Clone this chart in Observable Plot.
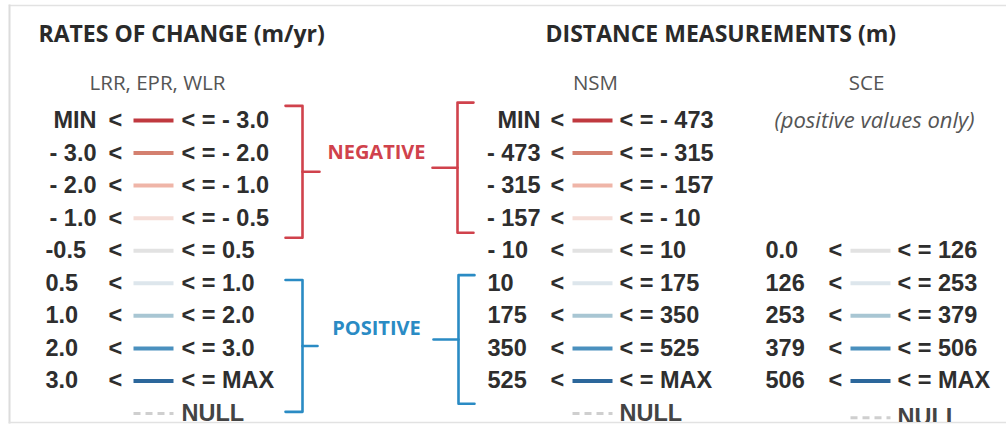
<!DOCTYPE html>
<html><head><meta charset="utf-8">
<script src="https://cdn.jsdelivr.net/npm/d3@7"></script>
<script src="https://cdn.jsdelivr.net/npm/@observablehq/plot@0.6"></script>
<style>body{margin:0;background:#fff}svg{display:block}</style>
</head><body><div id="chart"></div>
<script>
// ---- data ----
const titles = ["RATES OF CHANGE (m/yr)", "DISTANCE MEASUREMENTS (m)"];
const subtitles = ["LRR, EPR, WLR", "NSM", "SCE"];
const sceNote = "(positive values only)";
const groupLabels = ["NEGATIVE", "POSITIVE"];
const rateLower = ["MIN", "- 3.0", "- 2.0", "- 1.0", "-0.5", "0.5", "1.0", "2.0", "3.0"];
const rateUpper = ["- 3.0", "- 2.0", "- 1.0", "- 0.5", "0.5", "1.0", "2.0", "3.0", "MAX"];
const nsmLower = ["MIN", "- 473", "- 315", "- 157", "- 10", "10", "175", "350", "525"];
const nsmUpper = ["- 473", "- 315", "- 157", "- 10", "10", "175", "350", "525", "MAX"];
const sceLower = ["0.0", "126", "253", "379", "506"];
const sceUpper = ["126", "253", "379", "506", "MAX"];
const nullLabel = "NULL";
const classColors = ["#c0393f", "#d4806f", "#efb5a8", "#f5ddd7", "#e2e2e2", "#dde6ec", "#a8c6d3", "#4a90be", "#2c679b"];
const nullColor = "#cfcfcf";
const negColor = "#d0424c";
const posColor = "#2a8bc4";

// ---- layout ----
const cols = [
  {lower: rateLower, upper: rateUpper, first: 0, negEnd: 96, start: 45, lt: 108, x0: 133, x1: 173, right: 181, nullRow: 9},
  {lower: nsmLower, upper: nsmUpper, first: 0, negEnd: 540, start: 487, lt: 550, x0: 572, x1: 612, right: 619, nullRow: 9},
  {lower: sceLower, upper: sceUpper, first: 4, negEnd: null, start: 765, lt: 828, x0: 850, x1: 890, right: 897, nullRow: 9.13}
];
const rows = [], nulls = [];
for (const c of cols) {
  c.lower.forEach((lo, i) => {
    const k = c.first + i;
    rows.push({
      row: k, left: lo, neg: c.negEnd != null && k < 4,
      xl: c.negEnd != null && k < 4 ? c.negEnd : c.start,
      lt: c.lt, x0: c.x0, x1: c.x1, xr: c.right,
      right: "< = " + c.upper[i], color: classColors[k]
    });
  });
  nulls.push({row: c.nullRow, x0: c.x0, x1: c.x1, xr: c.right, text: nullLabel});
}
const bracketSpec = [
  {color: negColor, x: 302, dir: 1, top: -0.45, bottom: 3.6, arm: 17, tick: 17},
  {color: negColor, x: 457, dir: -1, top: -0.55, bottom: 3.45, arm: 16, tick: 25},
  {color: posColor, x: 302, dir: 1, top: 4.9, bottom: 8.95, arm: 17, tick: 15},
  {color: posColor, x: 458, dir: -1, top: 4.75, bottom: 8.7, arm: 16, tick: 25}
];
const bracketPts = [];
bracketSpec.forEach((b, j) => {
  const mid = (b.top + b.bottom) / 2, ax = b.x - b.dir * b.arm;
  [[ax, b.top], [b.x, b.top], [b.x, b.bottom], [ax, b.bottom]].forEach(([x, y]) => bracketPts.push({id: "a" + j, x, y, color: b.color}));
  [[b.x, mid], [b.x + b.dir * b.tick, mid]].forEach(([x, y]) => bracketPts.push({id: "t" + j, x, y, color: b.color}));
});
const groupText = [
  {text: groupLabels[0], x: 376, row: 0.98, color: negColor},
  {text: groupLabels[1], x: 376, row: 6.4, color: posColor}
];
const headers = [
  {text: titles[0], x: 38, row: -2.64},
  {text: titles[1], x: 545, row: -2.64}
];
const subs = [
  {text: subtitles[0], x: 157, row: -1.14},
  {text: subtitles[1], x: 595, row: -1.14},
  {text: subtitles[2], x: 866, row: -1.14}
];

const rowFont = {fontFamily: "Liberation Sans, Arial, sans-serif", fontWeight: "bold", fontSize: 23.5, fill: "#2e2e2e"};
const hdrFont = {fontFamily: "Open Sans, sans-serif"};

const chart = Plot.plot({
  width: 1006, height: 433,
  marginTop: 5, marginLeft: 9, marginRight: 0, marginBottom: 11,
  x: {type: "identity", axis: null},
  y: {domain: [0, 9], range: [120, 413], axis: null},
  marks: [
    Plot.frame({anchor: "top", stroke: "#e2e2e2", strokeWidth: 1.5}),
    Plot.frame({anchor: "left", stroke: "#dcdcdc", strokeWidth: 2}),
    Plot.frame({anchor: "bottom", stroke: "#e2e2e2", strokeWidth: 1.5}),
    Plot.text(headers, {x: "x", y: "row", text: "text", textAnchor: "start", ...hdrFont, fontWeight: "bold", fontSize: 23, fill: "#2a2a2a"}),
    Plot.text(subs, {x: "x", y: "row", text: "text", ...hdrFont, fontSize: 20.5, fill: "#555"}),
    Plot.text([sceNote], {x: 874, y: 0, text: d => d, ...hdrFont, fontStyle: "italic", fontSize: 22, fill: "#555"}),
    Plot.text(rows.filter(d => d.neg), {x: "xl", y: "row", text: "left", textAnchor: "end", ...rowFont}),
    Plot.text(rows.filter(d => !d.neg), {x: "xl", y: "row", text: "left", textAnchor: "start", ...rowFont}),
    Plot.text(rows, {x: "lt", y: "row", text: () => "<", textAnchor: "start", ...rowFont}),
    Plot.link(rows, {x1: "x0", x2: "x1", y1: "row", y2: "row", stroke: "color", strokeWidth: 4}),
    Plot.text(rows, {x: "xr", y: "row", text: "right", textAnchor: "start", ...rowFont}),
    Plot.link(nulls, {x1: "x0", x2: "x1", y1: "row", y2: "row", stroke: nullColor, strokeWidth: 3, strokeDasharray: "7,5"}),
    Plot.text(nulls, {x: "xr", y: "row", text: "text", textAnchor: "start", ...rowFont, fill: "#444", clip: "frame"}),
    Plot.line(bracketPts, {x: "x", y: "y", z: "id", stroke: "color", strokeWidth: 2.6, strokeLinejoin: "round"}),
    Plot.text(groupText, {x: "x", y: "row", text: "text", fill: "color", ...hdrFont, fontWeight: "bold", fontSize: 20})
  ]
});
document.getElementById("chart").appendChild(chart);
</script>
</body></html>
